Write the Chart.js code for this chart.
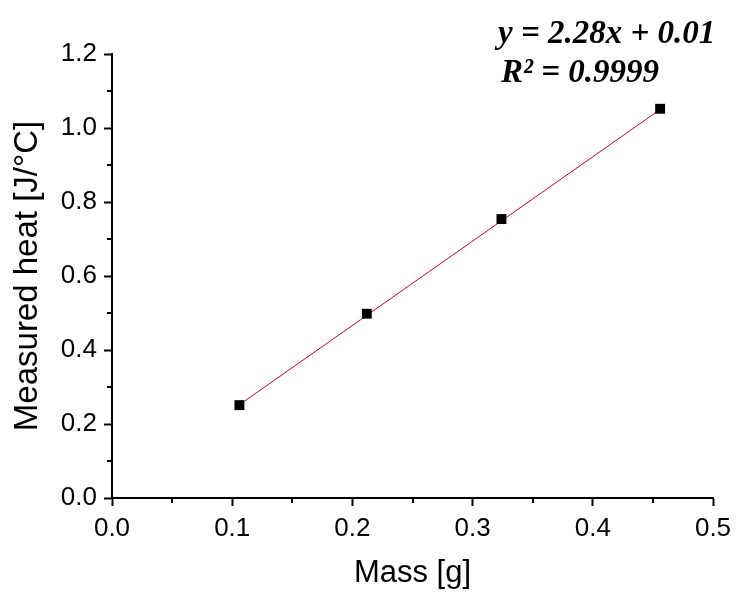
<!DOCTYPE html>
<html>
<head>
<meta charset="utf-8">
<script src="https://cdn.jsdelivr.net/npm/chart.js@4"></script>
<style>
  html, body { margin: 0; padding: 0; background: #fff; }
  #wrap { width: 749px; height: 592px; }
</style>
</head>
<body>
<div id="wrap"><canvas id="heatChart" width="749" height="592"></canvas></div>
<script>
// measured points
const massValues = [0.106, 0.212, 0.324, 0.456];
const heatValues = [0.251, 0.498, 0.754, 1.052];

// ends of the red fit line
const fitMass = [0.106, 0.456];
const fitHeat = [0.252, 1.050];

const xMinorTicks = [0.05, 0.15, 0.25, 0.35, 0.45];
const yMinorTicks = [0.1, 0.3, 0.5, 0.7, 0.9, 1.1];

const equationLines = ['y = 2.28x + 0.01', 'R\u00B2 = 0.9999'];

// small ticks between the labelled ones
const minorTicks = {
  id: 'minorTicks',
  afterDraw(chart) {
    const ctx = chart.ctx;
    const xs = chart.scales.x;
    const ys = chart.scales.y;
    ctx.save();
    ctx.strokeStyle = '#000';
    ctx.lineWidth = 2;
    ctx.beginPath();
    xMinorTicks.forEach(v => {
      const px = Math.round(xs.getPixelForValue(v));
      ctx.moveTo(px, xs.top);
      ctx.lineTo(px, xs.top + 5);
    });
    yMinorTicks.forEach(v => {
      const py = Math.round(ys.getPixelForValue(v));
      ctx.moveTo(ys.right, py);
      ctx.lineTo(ys.right - 5, py);
    });
    ctx.stroke();
    ctx.restore();
  }
};

// fit equation in the top right corner
const equationText = {
  id: 'equationText',
  afterDraw(chart) {
    const ctx = chart.ctx;
    const area = chart.chartArea;
    ctx.save();
    ctx.fillStyle = '#000';
    ctx.font = 'italic bold 33px "Liberation Serif"';
    ctx.textBaseline = 'alphabetic';
    ctx.fillText(equationLines[0], area.left + 386, 43);
    ctx.fillText(equationLines[1], area.left + 389, 82);
    ctx.restore();
  }
};

const ctx = document.getElementById('heatChart').getContext('2d');
const heatChart = new Chart(ctx, {
  type: 'scatter',
  data: {
    datasets: [{
      label: 'Fit',
      type: 'line',
      data: fitMass.map((m, i) => ({ x: m, y: fitHeat[i] })),
      borderColor: '#d8001c',
      borderWidth: 1,
      pointRadius: 0,
      fill: false,
      order: 2
    },
    {
      label: 'Measured',
      data: massValues.map((m, i) => ({ x: m, y: heatValues[i] })),
      pointStyle: 'rect',
      pointRadius: 7,
      backgroundColor: '#000',
      borderColor: '#000',
      borderWidth: 0,
      order: 1
    }]
  },
  options: {
    responsive: false,
    animation: false,
    layout: {
      padding: { top: 54, right: 36, left: 0, bottom: 0 }
    },
    plugins: {
      legend: { display: false },
      tooltip: { enabled: false }
    },
    scales: {
      x: {
        type: 'linear',
        min: 0,
        max: 0.5,
        afterFit(scale) { scale.height = 94; },
        border: { display: true, color: '#000', width: 2 },
        grid: {
          drawOnChartArea: false,
          drawTicks: true,
          tickLength: 8,
          tickWidth: 2,
          tickColor: '#000'
        },
        ticks: {
          stepSize: 0.1,
          padding: 7,
          color: '#000',
          font: { family: '"Liberation Sans"', size: 26 },
          callback: v => v.toFixed(1)
        },
        title: {
          display: true,
          text: 'Mass [g]',
          color: '#000',
          font: { family: '"Liberation Sans"', size: 31 },
          padding: { top: 4, bottom: 0 }
        }
      },
      y: {
        type: 'linear',
        min: 0,
        max: 1.2,
        afterFit(scale) { scale.width = 112; },
        border: { display: true, color: '#000', width: 2 },
        grid: {
          drawOnChartArea: false,
          drawTicks: true,
          tickLength: 8,
          tickWidth: 2,
          tickColor: '#000'
        },
        ticks: {
          stepSize: 0.2,
          padding: 7,
          color: '#000',
          font: { family: '"Liberation Sans"', size: 26 },
          callback: v => v.toFixed(1)
        },
        title: {
          display: true,
          text: 'Measured heat [J/\u00B0C]',
          color: '#000',
          font: { family: '"Liberation Sans"', size: 33 },
          padding: { top: 8, bottom: 0 }
        }
      }
    }
  },
  plugins: [minorTicks, equationText]
});
</script>
</body>
</html>
